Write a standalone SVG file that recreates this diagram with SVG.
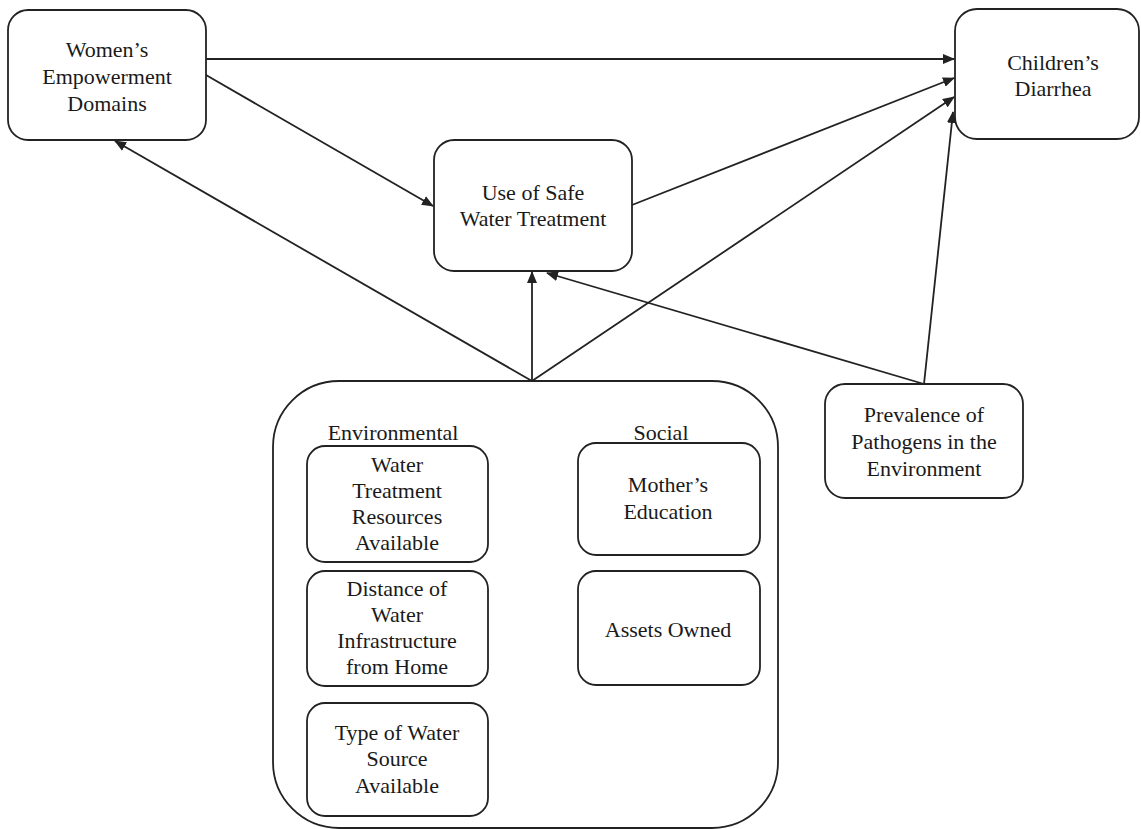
<svg xmlns="http://www.w3.org/2000/svg" width="1141" height="829" viewBox="0 0 1141 829">
<style>
.box{fill:#fff;stroke:#222;stroke-width:1.8}
.t{font-family:"Liberation Serif","Times New Roman",serif;font-size:22px;fill:#1a1a1a;text-anchor:middle}
.c{fill:none;stroke:#222;stroke-width:1.8}
</style>
<defs>
<marker id="ah" markerWidth="12" markerHeight="10" refX="11" refY="5" orient="auto" markerUnits="userSpaceOnUse">
<path d="M0,0 L12,5 L0,10 Z" fill="#222"/>
</marker>
</defs>
<rect width="1141" height="829" fill="#fff"/>
<g id="connectors">
<line class="c" x1="206" y1="59" x2="954" y2="59" marker-end="url(#ah)"/>
<line class="c" x1="206" y1="75" x2="433" y2="206" marker-end="url(#ah)"/>
<line class="c" x1="632" y1="205" x2="954" y2="78" marker-end="url(#ah)"/>
<line class="c" x1="532" y1="381" x2="954" y2="97" marker-end="url(#ah)"/>
<line class="c" x1="532" y1="381" x2="115" y2="141" marker-end="url(#ah)"/>
<line class="c" x1="532" y1="381" x2="532" y2="272" marker-end="url(#ah)"/>
<line class="c" x1="924" y1="384" x2="547" y2="273" marker-end="url(#ah)"/>
<line class="c" x1="924" y1="384" x2="953" y2="112" marker-end="url(#ah)"/>
</g>
<g id="womens">
<rect class="box" x="8" y="10" width="198" height="130" rx="20"/>
<text class="t" x="107" y="57">Women’s</text>
<text class="t" x="107" y="84">Empowerment</text>
<text class="t" x="107" y="111">Domains</text>
</g>
<g id="safewater">
<rect class="box" x="434" y="140" width="198" height="131" rx="20"/>
<text class="t" x="533" y="200">Use of Safe</text>
<text class="t" x="533" y="226">Water Treatment</text>
</g>
<g id="diarrhea">
<rect class="box" x="955" y="9" width="184" height="130" rx="22"/>
<text class="t" x="1053" y="70">Children’s</text>
<text class="t" x="1053" y="96">Diarrhea</text>
</g>
<g id="pathogens">
<rect class="box" x="825" y="384" width="198" height="114" rx="20"/>
<text class="t" x="924" y="422">Prevalence of</text>
<text class="t" x="924" y="449">Pathogens in the</text>
<text class="t" x="924" y="476">Environment</text>
</g>
<g id="factors">
<rect class="box" x="273" y="381" width="505" height="447" rx="66"/>
<text class="t" x="393" y="440">Environmental</text>
<text class="t" x="661" y="440">Social</text>
</g>
<g id="resources">
<rect class="box" x="307" y="446" width="181" height="116" rx="18"/>
<text class="t" x="397" y="472">Water</text>
<text class="t" x="397" y="498">Treatment</text>
<text class="t" x="397" y="524">Resources</text>
<text class="t" x="397" y="550">Available</text>
</g>
<g id="distance">
<rect class="box" x="307" y="571" width="181" height="115" rx="18"/>
<text class="t" x="397" y="596">Distance of</text>
<text class="t" x="397" y="622">Water</text>
<text class="t" x="397" y="648">Infrastructure</text>
<text class="t" x="397" y="674">from Home</text>
</g>
<g id="sourcetype">
<rect class="box" x="307" y="703" width="181" height="113" rx="18"/>
<text class="t" x="397" y="740">Type of Water</text>
<text class="t" x="397" y="766">Source</text>
<text class="t" x="397" y="793">Available</text>
</g>
<g id="education">
<rect class="box" x="578" y="443" width="182" height="112" rx="18"/>
<text class="t" x="668" y="492">Mother’s</text>
<text class="t" x="668" y="519">Education</text>
</g>
<g id="assets">
<rect class="box" x="578" y="571" width="182" height="114" rx="18"/>
<text class="t" x="668" y="637">Assets Owned</text>
</g>
</svg>
